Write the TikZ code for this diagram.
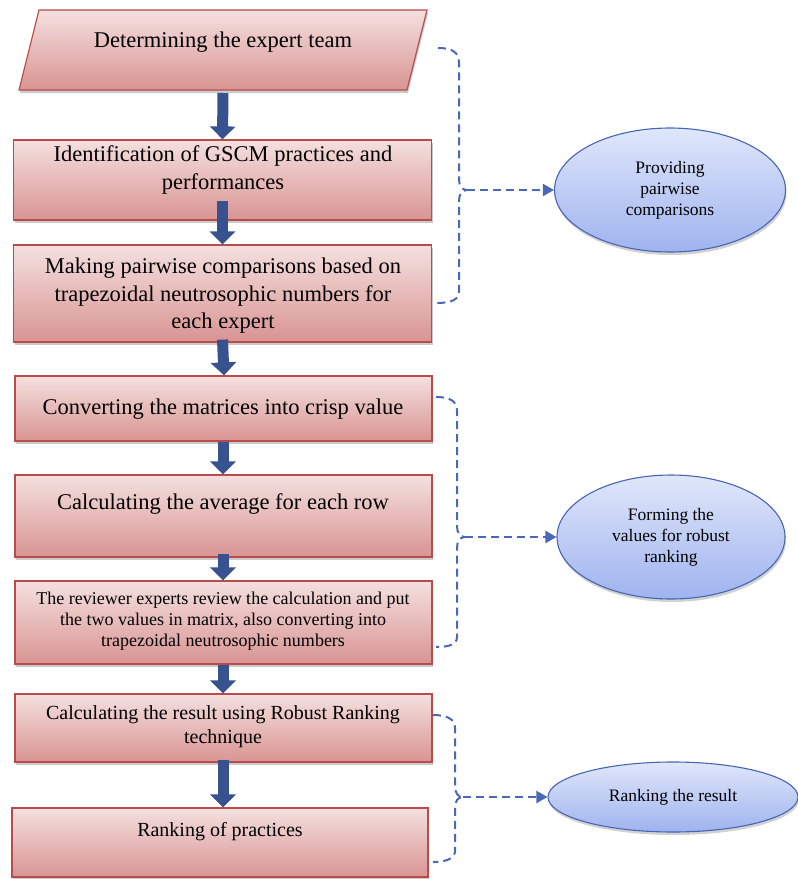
\documentclass[tikz,border=0pt]{standalone}
\usepackage{fontspec}
\setmainfont{Liberation Serif}
\usetikzlibrary{shapes.geometric,arrows.meta,shadows}
\definecolor{boxtop}{HTML}{F4E0DF}
\definecolor{boxbot}{HTML}{D89492}
\definecolor{boxline}{HTML}{B94C4A}
\definecolor{elltop}{HTML}{E0E7FB}
\definecolor{ellbot}{HTML}{9FB3EE}
\definecolor{ellline}{HTML}{4865B5}
\definecolor{arrowblue}{HTML}{37528F}
\definecolor{dashblue}{HTML}{4A68B5}
\begin{document}
\begin{tikzpicture}[x=1pt,y=-1pt,
  boxpaint/.style={draw=boxline, line width=1.2pt, top color=boxtop, bottom color=boxbot,
    drop shadow={shadow xshift=1pt, shadow yshift=-3pt, opacity=0.35, fill=black!60}},
  box/.style={boxpaint, minimum width=418pt, inner sep=0pt},
  ell/.style={ellipse, draw=ellline, line width=1.1pt, top color=elltop, bottom color=ellbot,
    inner sep=0pt, align=center, font=\fontsize{17.5}{21}\selectfont,
    drop shadow={shadow xshift=1pt, shadow yshift=-3pt, opacity=0.3, fill=black!60}},
  txt/.style={align=center, inner sep=0pt, font=\fontsize{22.5}{27.5}\selectfont},
  smalltxt/.style={align=center, inner sep=0pt, font=\fontsize{18}{21}\selectfont},
  midtxt/.style={align=center, inner sep=0pt, font=\fontsize{20}{24}\selectfont},
  fatarrow/.style={draw=arrowblue, line width=11pt, -{Triangle[length=13pt,width=25pt]}},
  brace/.style={draw=dashblue, line width=2pt, dash pattern=on 8pt off 5pt},
  dasharrow/.style={draw=dashblue, line width=2pt, dash pattern=on 8pt off 5pt,
    -{Triangle[length=11pt,width=12pt]}}
]
\useasboundingbox (0,0) rectangle (798,879);

% parallelogram (first step)
\path[boxpaint] (19,90) -- (39,10) -- (427,10) -- (407,90) -- cycle;
\coordinate (b1s) at (223,90);

% boxes
\node[box, minimum height=80pt] (b2) at (222.5,180) {};
\node[box, minimum height=97pt] (b3) at (222.5,293.5) {};
\node[box, minimum width=417pt, minimum height=65pt] (b4) at (223.5,408.5) {};
\node[box, minimum width=417pt, minimum height=82pt] (b5) at (223.5,516) {};
\node[box, minimum width=417pt, minimum height=83pt] (b6) at (223.5,622.5) {};
\node[box, minimum width=417pt, minimum height=68pt] (b7) at (223.5,728) {};
\node[box, minimum width=416pt, minimum height=69pt] (b8) at (220,842.5) {};

% texts
\node[txt] (t1) at (223,42) {Determining the expert team};
\node[txt] (t2) at (223,170) {Identification of GSCM practices and\\performances};
\node[txt] (t3) at (223,296) {Making pairwise comparisons based on\\trapezoidal neutrosophic numbers for\\each expert};
\node[txt] (t4) at (223,409) {Converting the matrices into crisp value};
\node[txt] (t5) at (223,504) {Calculating the average for each row};
\node[smalltxt] (t6) at (223,621) {The reviewer experts review the calculation and put\\the two values in matrix, also converting into\\trapezoidal neutrosophic numbers};
\node[midtxt] (t7) at (223,727) {Calculating the result using Robust Ranking\\technique};
\node[midtxt] (t8) at (220,832) {Ranking of practices};

% fat arrows
\draw[fatarrow] ([yshift=-3pt]b1s) -- (b2.north);
\draw[fatarrow] ([yshift=20pt]b2.south) -- (b3.north);
\draw[fatarrow] ([yshift=3pt]b3.south) -- ([xshift=0.5pt]b4.north);
\draw[fatarrow] ([xshift=-0.5pt]b4.south) -- ([xshift=-0.5pt]b5.north);
\draw[fatarrow] ([xshift=-0.5pt,yshift=4pt]b5.south) -- ([xshift=-0.5pt]b6.north);
\draw[fatarrow] ([xshift=-0.5pt]b6.south) -- ([xshift=-0.5pt]b7.north);
\draw[fatarrow] ([xshift=-0.5pt,yshift=3pt]b7.south) -- ([xshift=3pt]b8.north);

% ellipses
\node[ell, minimum width=231pt, minimum height=124pt] (e1) at (670,190) {Providing\\pairwise\\comparisons};
\node[ell, minimum width=228pt, minimum height=124pt] (e2) at (671,537) {Forming the\\values for robust\\ranking};
\node[ell, minimum width=250pt, minimum height=70pt] (e3) at (673,797) {Ranking the result};

% braces
\coordinate (c1) at (467,190);
\coordinate (c2) at (465,537);
\coordinate (c3) at (463,797);
\draw[brace] (438,48) .. controls (452,48) and (459,52) .. (459,63) -- (459,179)
  .. controls (459,186) and (462,190) .. (c1)
  .. controls (462,190) and (459,194) .. (459,201) -- (459,292)
  .. controls (459,299) and (452,303) .. (437,303);
\draw[brace] (436,397) .. controls (450,397) and (457,401) .. (457,411) -- (457,526)
  .. controls (457,533) and (460,537) .. (c2)
  .. controls (460,537) and (457,541) .. (457,548) -- (457,637)
  .. controls (457,644) and (450,647) .. (436,647);
\draw[brace] (433,715) .. controls (447,715) and (455,719) .. (455,728) -- (455,786)
  .. controls (455,793) and (458,797) .. (c3)
  .. controls (458,797) and (455,801) .. (455,808) -- (455,851)
  .. controls (455,858) and (447,862) .. (433,862);

% dashed connectors
\draw[dasharrow] (c1) -- (e1.west);
\draw[dasharrow] (c2) -- (e2.west);
\draw[dasharrow] (c3) -- (e3.west);
\end{tikzpicture}
\end{document}
